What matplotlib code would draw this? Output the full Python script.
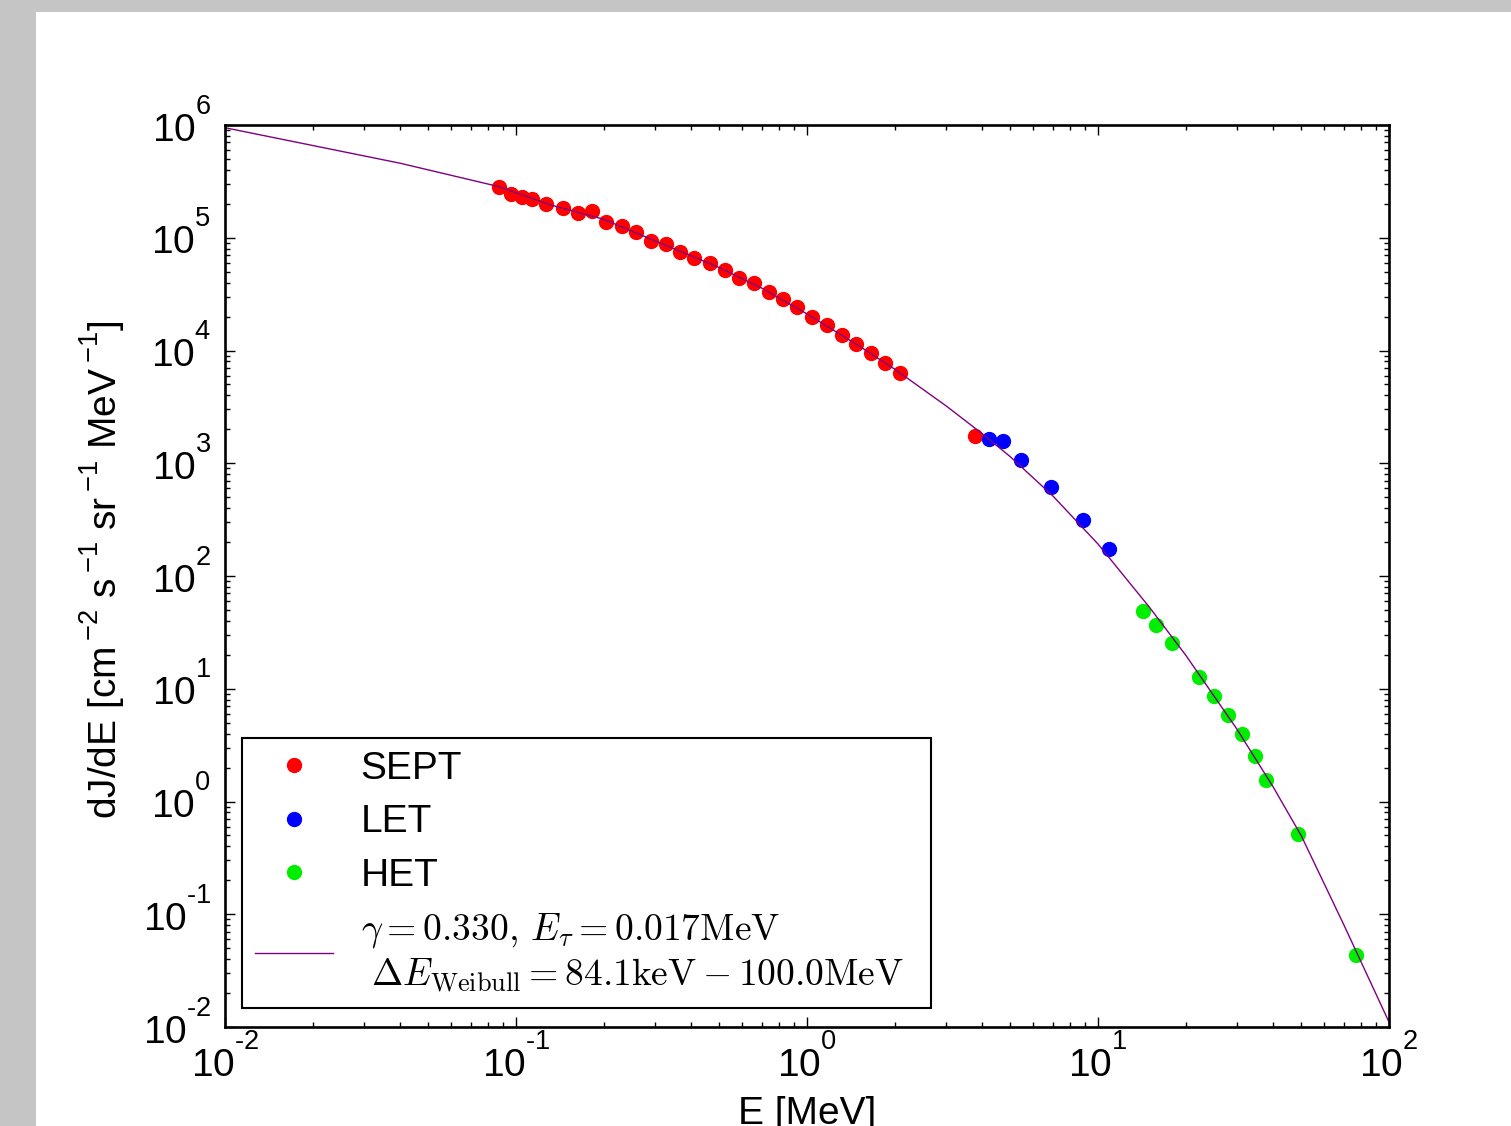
import matplotlib
matplotlib.use("Agg")
import matplotlib.pyplot as plt
from matplotlib.patches import Rectangle
from matplotlib.ticker import LogLocator, NullFormatter, FuncFormatter
from matplotlib.transforms import ScaledTranslation
import numpy as np

try:
    import matplotlib._mathtext as _mt
except Exception:
    _mt = None


def set_sup(v):
    if _mt is not None:
        try:
            _mt.FontConstantsBase.sup1 = v
        except Exception:
            pass


# ---------------- data ----------------
sept_E = [0.0876, 0.0961, 0.1046, 0.1132, 0.1268, 0.1447, 0.1633, 0.1825, 0.2039,
          0.2308, 0.2578, 0.2904, 0.3277, 0.3669, 0.4100, 0.4630, 0.5215, 0.5853,
          0.6557, 0.7386, 0.8250, 0.9239, 1.038, 1.171, 1.316, 1.477, 1.659, 1.858,
          2.093, 3.777]
sept_J = [2.80e5, 2.44e5, 2.285e5, 2.22e5, 1.992e5, 1.825e5, 1.648e5, 1.737e5, 1.388e5,
          1.279e5, 1.125e5, 9.41e4, 8.86e4, 7.47e4, 6.66e4, 5.97e4, 5.145e4, 4.42e4,
          3.945e4, 3.283e4, 2.88e4, 2.446e4, 1.97e4, 1.673e4, 1.381e4, 1.142e4, 9.45e3,
          7.70e3, 6.36e3, 1.745e3]

let_E = [4.22, 4.73, 5.45, 6.90, 8.90, 10.91]
let_J = [1641, 1565, 1075, 616, 312, 174.7]

het_E = [14.24, 15.86, 18.00, 22.18, 25.03, 27.91, 31.32, 34.55, 37.78, 48.8, 77.2]
het_J = [49.2, 36.5, 25.3, 12.79, 8.57, 5.85, 3.97, 2.55, 1.551, 0.512, 0.0432]

fit_E = [0.01, 0.04, 0.0876, 0.13, 0.2, 0.3, 0.5, 0.7, 1.0, 1.5, 2.0, 3.0, 4.0,
         5.0, 7.0, 10.0, 15.0, 20.0, 30.0, 40.0, 50.0, 70.0, 100.0]
fit_J = [9.46e5, 4.58e5, 2.836e5, 1.97e5, 1.46e5, 9.4e4, 5.43e4, 3.57e4, 2.11e4,
         1.11e4, 6.84e3, 3.239e3, 1.829e3, 1.141e3, 512.3, 192.2, 53.1, 19.92, 4.395,
         1.345, 0.4943, 0.0803, 0.01107]

series_labels = ["SEPT", "LET", "HET"]
fit_label = (r"$\gamma = 0.330,\, E_\tau = 0.017\mathrm{MeV}$" + "\n"
             + r" $\Delta E_{\mathrm{Weibull}} = 84.1\mathrm{keV} - 100.0\mathrm{MeV}$")
xlabel = "E [MeV]"
ylabel = r"dJ/dE [cm$\,^{-2}$ s$\,^{-1}$ sr$\,^{-1}$ MeV$\,^{-1}$]"

# ---------------- style ----------------
plt.rcParams["font.family"] = ["Liberation Sans", "DejaVu Sans"]
plt.rcParams["mathtext.fontset"] = "custom"
plt.rcParams["mathtext.rm"] = "Liberation Sans"
plt.rcParams["mathtext.it"] = "Liberation Sans:italic"
plt.rcParams["mathtext.bf"] = "Liberation Sans:bold"
plt.rcParams["mathtext.sf"] = "Liberation Sans"


def decade_fmt(v, pos):
    e = int(round(np.log10(v)))
    s = str(e).replace("-", "\u2010")
    return r"$\mathdefault{10^{%s}}$" % s


W, H = 1511, 1126
fig = plt.figure(figsize=(W / 100, H / 100), dpi=100, facecolor="#c4c5c4")
fig.add_artist(Rectangle((36 / W, 0), 1 - 36 / W, 1 - 12 / H, transform=fig.transFigure,
                         facecolor="white", edgecolor="none", zorder=0))

ax = fig.add_axes([225 / W, 99 / H, 1164 / W, 902 / H])
ax.set_xscale("log")
ax.set_yscale("log")

ms = 10
ax.plot(sept_E, sept_J, "o", color="#ff0000", mec="#ff0000", ms=ms, label=series_labels[0])
ax.plot(let_E, let_J, "o", color="#0000ff", mec="#0000ff", ms=ms, label=series_labels[1])
ax.plot(het_E, het_J, "o", color="#00ee00", mec="#00ee00", ms=ms, label=series_labels[2])
ax.plot(fit_E, fit_J, "-", color="purple", lw=1.0, label=fit_label)

ax.set_xlim(1e-2, 1e2)
ax.set_ylim(1e-2, 1e6)

ax.xaxis.set_major_locator(LogLocator(base=10, numticks=20))
ax.yaxis.set_major_locator(LogLocator(base=10, numticks=20))
ax.xaxis.set_minor_locator(LogLocator(base=10, subs=range(2, 10), numticks=50))
ax.yaxis.set_minor_locator(LogLocator(base=10, subs=range(2, 10), numticks=50))
ax.xaxis.set_major_formatter(FuncFormatter(lambda v, p: ""))
ax.yaxis.set_major_formatter(FuncFormatter(lambda v, p: ""))
ax.xaxis.set_minor_formatter(NullFormatter())
ax.yaxis.set_minor_formatter(NullFormatter())

for s in ax.spines.values():
    s.set_linewidth(1.9)
ax.tick_params(which="both", direction="in", top=True, right=True, width=1.0,
               labelsize=28, colors="black")
ax.tick_params(which="major", length=7.2)
ax.tick_params(which="minor", length=3.6)
ax.tick_params(axis="x", which="major", pad=6)
ax.tick_params(axis="y", which="major", pad=10)

ax.set_xlabel(xlabel, fontsize=28)
ax.set_ylabel(ylabel, fontsize=28)
ax.xaxis.set_label_coords(0.5, -0.0765)
ax.xaxis.label.set_va("top")
ax.yaxis.set_label_coords(-0.083, 0.507)

leg = ax.legend(loc="lower left", bbox_to_anchor=(17 / 1164, 19.5 / 902), borderaxespad=0,
                fontsize=28, numpoints=1, handlelength=2.0, handletextpad=0.72,
                borderpad=0.33, labelspacing=0.45, fancybox=False, framealpha=1,
                edgecolor="black")
leg.get_frame().set_linewidth(1.5)
t = leg.get_texts()[3]
t.set_math_fontfamily("cm")
t.set_fontsize(27)

# widen the legend frame on the right, as in the reference
_orig_set_bounds = leg.legendPatch.set_bounds


def _wide_bounds(*args):
    if len(args) == 1:
        l, b, w, h = args[0]
    else:
        l, b, w, h = args
    _orig_set_bounds(l, b, w + 15, h)


leg.legendPatch.set_bounds = _wide_bounds

# first pass: axis label superscripts with a moderate raise
set_sup(0.9)
fig.canvas.draw()

# second pass: tick labels with strongly raised exponents
set_sup(1.33)
ax.xaxis.set_major_formatter(FuncFormatter(decade_fmt))
ax.yaxis.set_major_formatter(FuncFormatter(decade_fmt))
fig.canvas.draw()
for lab in ax.yaxis.get_majorticklabels():
    lab.set_transform(lab.get_transform() + ScaledTranslation(0, 4 / 100, fig.dpi_scale_trans))

fig.savefig("out.png", dpi=100, facecolor=fig.get_facecolor())
